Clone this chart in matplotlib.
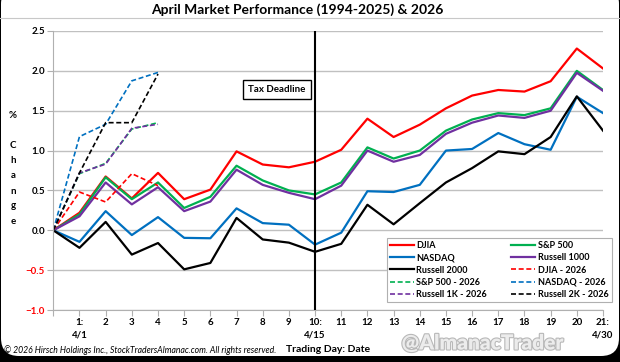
import matplotlib
matplotlib.use("Agg")
import matplotlib.pyplot as plt
from matplotlib.lines import Line2D
from matplotlib.patches import FancyBboxPatch
import matplotlib.patheffects as pe

plt.rcParams['font.family'] = ['Lato', 'DejaVu Sans']

# trading days 0..21 (day 0 = start)
days = list(range(22))
djia = [0, 0.22, 0.675, 0.40, 0.72, 0.39, 0.51, 0.99, 0.825, 0.79, 0.86,
        1.01, 1.40, 1.17, 1.325, 1.53, 1.69, 1.76, 1.74, 1.87, 2.28, 2.03]
sp500 = [0, 0.20, 0.665, 0.39, 0.60, 0.28, 0.42, 0.81, 0.625, 0.50, 0.45,
         0.60, 1.04, 0.90, 1.00, 1.25, 1.39, 1.47, 1.445, 1.53, 2.00, 1.76]
nasdaq = [0, -0.145, 0.24, -0.06, 0.165, -0.095, -0.10, 0.275, 0.09, 0.07, -0.18,
          -0.03, 0.49, 0.48, 0.57, 1.00, 1.02, 1.22, 1.08, 1.01, 1.675, 1.47]
russell1000 = [0, 0.175, 0.60, 0.325, 0.54, 0.24, 0.36, 0.76, 0.57, 0.47, 0.39,
               0.56, 1.00, 0.86, 0.945, 1.21, 1.35, 1.44, 1.41, 1.50, 1.975, 1.75]
russell2000 = [0, -0.22, 0.105, -0.305, -0.16, -0.49, -0.41, 0.155, -0.115, -0.155, -0.27,
               -0.17, 0.32, 0.075, 0.34, 0.60, 0.78, 0.99, 0.955, 1.17, 1.68, 1.25]

# 2026 year-to-date (days 0..4)
days_2026 = [0, 1, 2, 3, 4]
djia_2026 = [0, 0.48, 0.355, 0.71, 0.56]
sp500_2026 = [0, 0.71, 0.84, 1.27, 1.35]
nasdaq_2026 = [0, 1.175, 1.33, 1.875, 1.98]
r1k_2026 = [0, 0.72, 0.83, 1.28, 1.33]
r2k_2026 = [0, 0.72, 1.35, 1.35, 1.96]

xtick_labels = ['1:\n4/1', '2', '3', '4', '5', '6', '7', '8', '9', '10:\n4/15',
                '11', '12', '13', '14', '15', '16', '17', '18', '19', '20', '21:\n4/30']
yticks = [-1.0, -0.5, 0.0, 0.5, 1.0, 1.5, 2.0, 2.5]

RED, GREEN, BLUE, PURPLE, BLACK = '#FF0000', '#00B050', '#0070C0', '#7030A0', '#000000'

fig = plt.figure(figsize=(6.2, 3.62), dpi=100, facecolor='black')
# white rounded card on black background
card = FancyBboxPatch((0.01, 0.06), 6.18, 3.7, boxstyle="round,pad=0,rounding_size=0.18",
                      transform=fig.dpi_scale_trans, facecolor='white', edgecolor='none', zorder=-10)
fig.add_artist(card)
fig.add_artist(Line2D([0, 1], [1 - 17.5 / 362] * 2, color='#c8c8c8', lw=0.8))

ax = fig.add_axes([53.3 / 620, 1 - 310 / 362, (603 - 53.3) / 620, (310 - 31) / 362])
ax.set_facecolor('white')

lines = {}
lines['DJIA'], = ax.plot(days, djia, color=RED, lw=1.6)
lines['S&P 500'], = ax.plot(days, sp500, color=GREEN, lw=1.6)
lines['NASDAQ'], = ax.plot(days, nasdaq, color=BLUE, lw=1.6)
lines['Russell 1000'], = ax.plot(days, russell1000, color=PURPLE, lw=1.6)
lines['Russell 2000'], = ax.plot(days, russell2000, color=BLACK, lw=1.6)
dash = (0, (3, 1.6))
lines['DJIA - 2026'], = ax.plot(days_2026, djia_2026, color=RED, lw=1.2, linestyle=dash)
lines['S&P 500 - 2026'], = ax.plot(days_2026, sp500_2026, color=GREEN, lw=1.2, linestyle=dash)
lines['NASDAQ - 2026'], = ax.plot(days_2026, nasdaq_2026, color=BLUE, lw=1.2, linestyle=dash)
lines['Russell 1K - 2026'], = ax.plot(days_2026, r1k_2026, color=PURPLE, lw=1.2, linestyle=dash)
lines['Russell 2K - 2026'], = ax.plot(days_2026, r2k_2026, color=BLACK, lw=1.2, linestyle=dash)

ax.axvline(10, color='black', lw=1.5, zorder=5)
ax.text(8.55, 1.765, 'Tax Deadline', ha='center', va='center', fontsize=7, fontweight='bold',
        bbox=dict(boxstyle='square,pad=0.55', facecolor='white', edgecolor='black', lw=1.0))

ax.set_xlim(0, 21)
ax.set_ylim(-1.0, 2.5)
ax.set_xticks(range(22))
ax.set_xticklabels([''] + xtick_labels, fontsize=7, fontweight='bold', linespacing=1.5)
ax.set_yticks(yticks)
ax.set_yticklabels([f'{v:.1f}'.replace('-', '\u2212') for v in yticks], fontsize=7, fontweight='bold')
for lab, v in zip(ax.get_yticklabels(), yticks):
    if v < 0:
        lab.set_color(RED)
ax.grid(axis='y', color='#c0c0c0', lw=1.0)
ax.set_axisbelow(True)
for s in ['top', 'right']:
    ax.spines[s].set_visible(False)
for s in ['left', 'bottom']:
    ax.spines[s].set_color('#b0b0b0')
ax.tick_params(axis='both', color='#b0b0b0', length=4, pad=2)

order = ['DJIA', 'NASDAQ', 'Russell 2000', 'S&P 500 - 2026', 'Russell 1K - 2026',
         'S&P 500', 'Russell 1000', 'DJIA - 2026', 'NASDAQ - 2026', 'Russell 2K - 2026']
leg = ax.legend([lines[k] for k in order], order, ncol=2, loc='lower left',
                bbox_to_anchor=(382 / 620, 1 - 307 / 362), bbox_transform=fig.transFigure,
                prop={'size': 6.5, 'weight': 'bold'}, frameon=True, fancybox=False,
                edgecolor='#b0b0b0', framealpha=1, handlelength=2.6, handletextpad=0.3,
                columnspacing=2.7, labelspacing=0.35, borderpad=0.4)
leg.get_frame().set_linewidth(0.8)

fig.text(297 / 620, 1 - 10 / 362, 'April Market Performance (1994-2025) & 2026', ha='center',
         va='center', fontsize=10, fontweight='bold')
fig.text(13 / 620, 1 - 115 / 362, '%', ha='center', va='center', fontsize=7, fontweight='bold')
for i, ch in enumerate('Change'):
    fig.text(13 / 620, 1 - (146 + 15 * i) / 362, ch, ha='center', va='center', fontsize=7,
             fontweight='bold')
fig.text(4 / 620, 1 - 350 / 362, '\u00a9 2026 Hirsch Holdings Inc., StockTradersAlmanac.com. All rights reserved.',
         ha='left', va='center', fontsize=6.2, style='italic')
fig.text(328 / 620, 1 - 349 / 362, 'Trading Day: Date', ha='center', va='center', fontsize=7.5,
         fontweight='bold')
wm = fig.text(483 / 620, 1 - 343 / 362, '@AlmanacTrader', ha='center', va='center', fontsize=15,
              fontweight='heavy', color='#ececec')
wm.set_path_effects([pe.withStroke(linewidth=1.6, foreground='#b8b8b8')])

fig.savefig('out.png', dpi=100, facecolor=fig.get_facecolor())
